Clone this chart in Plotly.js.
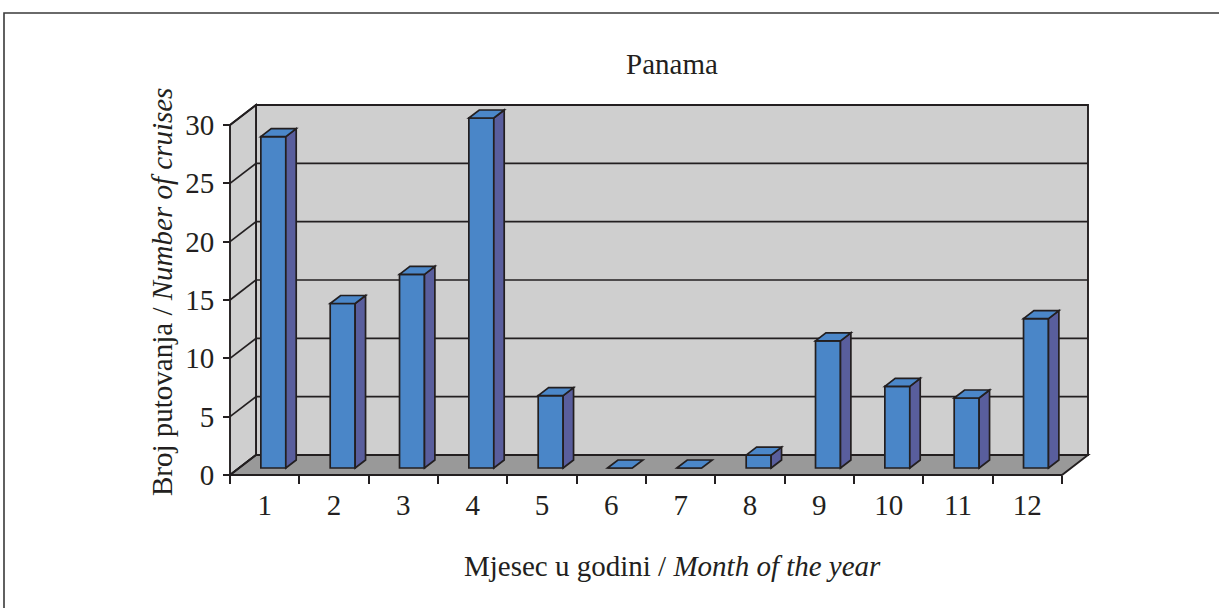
<!DOCTYPE html>
<html>
<head>
<meta charset="utf-8">
<script src="https://cdn.plot.ly/plotly-3.0.1.min.js"></script>
<style>html,body{margin:0;padding:0;background:#fff;}#chart{width:1219px;height:608px;}</style>
</head>
<body>
<div id="chart"></div>
<script>
// ---- data ----
const months = [1, 2, 3, 4, 5, 6, 7, 8, 9, 10, 11, 12];
const monthLabels = ['1', '2', '3', '4', '5', '6', '7', '8', '9', '10', '11', '12'];
const cruises = [28.4, 14.1, 16.6, 30, 6.2, 0, 0, 1.1, 10.9, 7, 6, 12.8];
const yTicks = [0, 5, 10, 15, 20, 25, 30];
const chartTitle = 'Panama';
const xTitle = 'Mjesec u godini / <i>Month of the year</i>';
const yTitle = 'Broj putovanja / <i>Number of cruises</i>';

// ---- geometry / style ----
const W = 1219, H = 608;
const ux = 832 / 12;          // px per month
const uy = 350 / 30;          // px per unit
const frontLeftPx = 230, zeroPx = 475;
const Dx = 26 / ux, Dy = 20 / uy;   // depth offset of back wall (data units)
const d0 = 0.35, bd = 0.4;          // bar front depth, bar depth (fraction)
const bw = 0.36, bOff = -0.055;     // bar width, left offset
const yMax = 30;
const ml = 223, mr = 126, mt = 101, mb = 130;
const plotW = W - ml - mr, plotH = H - mt - mb;
const xr0 = 0.5 - (frontLeftPx - ml) / ux, xr1 = xr0 + plotW / ux;
const yr1 = (zeroPx - mt) / uy, yr0 = yr1 - plotH / uy;
const px2x = p => (p - ml) / plotW;
const py2y = p => (H - mb - p) / plotH;

const INK = '#231f20';
const WALL = '#cfcfcf', FLOOR = '#999999';
const FRONT = '#4a86c8', SIDE = '#595e9d', TOP = '#4b87c9';
const FONT = 'Liberation Serif, Times New Roman, serif';
const FS = 29;
const LW = 1.9;

const poly = pts => 'M' + pts.map(p => p[0] + ',' + p[1]).join('L') + 'Z';
const shapes = [];
const xa = 0.5, xb = 0.5 + months.length;
// back wall
shapes.push({type: 'path', layer: 'below', xref: 'x', yref: 'y',
  path: poly([[xa + Dx, Dy], [xb + Dx, Dy], [xb + Dx, yMax + Dy], [xa + Dx, yMax + Dy]]),
  fillcolor: WALL, line: {color: INK, width: LW}});
// left wall
shapes.push({type: 'path', layer: 'below', xref: 'x', yref: 'y',
  path: poly([[xa, 0], [xa + Dx, Dy], [xa + Dx, yMax + Dy], [xa, yMax]]),
  fillcolor: WALL, line: {color: INK, width: LW}});
// floor
shapes.push({type: 'path', layer: 'below', xref: 'x', yref: 'y',
  path: poly([[xa, 0], [xb, 0], [xb + Dx, Dy], [xa + Dx, Dy]]),
  fillcolor: FLOOR, line: {color: INK, width: LW}});
// gridlines
yTicks.forEach(v => {
  if (v > 0 && v < yMax) {
    shapes.push({type: 'line', layer: 'below', xref: 'x', yref: 'y',
      x0: xa + Dx, y0: v + Dy, x1: xb + Dx, y1: v + Dy, line: {color: INK, width: 1.7}});
  }
  shapes.push({type: 'line', layer: 'below', xref: 'x', yref: 'y',
    x0: xa, y0: v, x1: xa + Dx, y1: v + Dy, line: {color: INK, width: 1.7}});
});
// bar side and top faces
const bdx = bd * Dx, bdy = bd * Dy;
const yb = d0 * Dy;
months.forEach((m, i) => {
  const v = cruises[i];
  const xl = m + bOff, xrr = m + bOff + bw;
  const yt = yb + v;
  if (v > 0) {
    shapes.push({type: 'path', layer: 'above', xref: 'x', yref: 'y',
      path: poly([[xrr, yb], [xrr + bdx, yb + bdy], [xrr + bdx, yt + bdy], [xrr, yt]]),
      fillcolor: SIDE, line: {color: INK, width: 1.7}});
  }
  shapes.push({type: 'path', layer: 'above', xref: 'x', yref: 'y',
    path: poly([[xl, yt], [xrr, yt], [xrr + bdx, yt + bdy], [xl + bdx, yt + bdy]]),
    fillcolor: TOP, line: {color: INK, width: 1.7}});
});
// outer frame
shapes.push({type: 'rect', xref: 'paper', yref: 'paper',
  x0: px2x(4), x1: px2x(1240), y0: py2y(630), y1: py2y(13),
  fillcolor: 'rgba(0,0,0,0)', line: {color: '#3a3a3a', width: 1.6}});

const trace = {
  type: 'bar', x: months, y: cruises, base: yb, width: bw, offset: bOff,
  marker: {color: FRONT, line: {color: INK, width: 1.7}},
  hoverinfo: 'skip', showlegend: false
};

const layout = {
  width: W, height: H,
  margin: {l: ml, r: mr, t: mt, b: mb, pad: 0},
  paper_bgcolor: '#ffffff', plot_bgcolor: 'rgba(0,0,0,0)',
  font: {family: FONT, color: INK, size: FS},
  title: {text: chartTitle, x: 672 / W, xref: 'container', xanchor: 'center',
    y: 1 - 64 / H, yref: 'container', yanchor: 'middle', font: {family: FONT, size: FS, color: INK}},
  xaxis: {range: [xr0, xr1], anchor: 'free', position: py2y(zeroPx),
    tickmode: 'array', tickvals: months, ticktext: monthLabels, ticks: '',
    showgrid: false, zeroline: false, showline: false, ticklabelstandoff: 10,
    minor: {tickmode: 'array', tickvals: months.map(m => m - 0.5).concat([xb]),
      ticks: 'outside', ticklen: 8, tickwidth: LW, tickcolor: INK, showgrid: false},
    tickfont: {family: FONT, size: FS, color: INK}, fixedrange: true},
  yaxis: {range: [yr0, yr1], anchor: 'free', position: px2x(frontLeftPx),
    tickmode: 'array', tickvals: yTicks, ticks: 'outside', ticklen: 7, tickwidth: LW, tickcolor: INK,
    showgrid: false, zeroline: false, showline: false, ticklabelstandoff: 3,
    tickfont: {family: FONT, size: FS, color: INK}, fixedrange: true},
  shapes: shapes,
  annotations: [
    {text: xTitle, xref: 'paper', yref: 'paper', x: px2x(672), y: py2y(566),
      xanchor: 'center', yanchor: 'middle', showarrow: false, font: {family: FONT, size: FS, color: INK}},
    {text: yTitle, xref: 'paper', yref: 'paper', x: px2x(162), y: py2y(292), textangle: -90,
      xanchor: 'center', yanchor: 'middle', showarrow: false, font: {family: FONT, size: FS, color: INK}}
  ],
  showlegend: false, bargap: 0
};

Plotly.newPlot('chart', [trace], layout, {displayModeBar: false, staticPlot: true});
</script>
</body>
</html>
